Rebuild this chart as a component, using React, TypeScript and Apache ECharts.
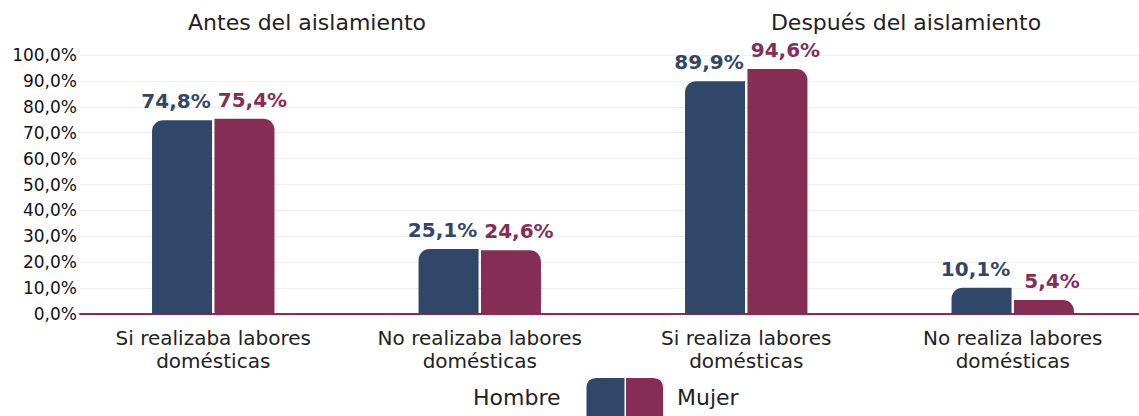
import React, { useEffect, useRef } from "react";
import * as echarts from "echarts";

const categories = [
  "Si realizaba labores\ndomésticas",
  "No realizaba labores\ndomésticas",
  "Si realiza labores\ndomésticas",
  "No realiza labores\ndomésticas",
];
const hombre = [74.8, 25.1, 89.9, 10.1];
const mujer = [75.4, 24.6, 94.6, 5.4];
const titles = ["Antes del aislamiento", "Después del aislamiento"];

const C_H = "#30476A";
const C_M = "#862D55";
const FONT = "DejaVu Sans";

const fmt = (v: number) => v.toFixed(1).replace(".", ",") + "%";

export default function App() {
  const ref = useRef<HTMLDivElement>(null);
  useEffect(() => {
    document.body.style.margin = "0";
    document.body.style.overflow = "hidden";
    const chart = echarts.init(ref.current!, null, { renderer: "svg" });
    const titleStyle = { fontFamily: FONT, fontSize: 22, fontWeight: "normal", color: "#222" };
    chart.setOption({
      animation: false,
      textStyle: { fontFamily: FONT },
      title: [
        { text: titles[0], left: 302, top: 6, textAlign: "center", textStyle: titleStyle },
        { text: titles[1], left: 901, top: 6, textAlign: "center", textStyle: titleStyle },
      ],
      legend: [
        {
          data: ["Hombre"],
          left: 473,
          top: 378,
          align: "right",
          padding: 0,
          itemWidth: 38,
          itemHeight: 38,
          icon: "path://M10,0 L38,0 L38,38 L0,38 L0,10 Q0,0 10,0 Z",
          textStyle: { fontFamily: FONT, fontSize: 22, color: "#222", padding: [12, 21, 0, 0] },
        },
        {
          data: ["Mujer"],
          left: 626,
          top: 378,
          align: "left",
          padding: 0,
          itemWidth: 37,
          itemHeight: 38,
          icon: "path://M0,0 L27,0 Q37,0 37,10 L37,38 L0,38 Z",
          textStyle: { fontFamily: FONT, fontSize: 22, color: "#222", padding: [12, 0, 0, 9] },
        },
      ],
      grid: { left: 80, right: 0, top: 55, bottom: 102, containLabel: false },
      xAxis: {
        type: "category",
        data: categories,
        axisLine: { lineStyle: { color: C_M, width: 2 } },
        axisTick: { show: false },
        axisLabel: {
          interval: 0,
          hideOverlap: false,
          fontFamily: FONT,
          fontSize: 20,
          color: "#222",
          lineHeight: 23,
          margin: 12,
        },
      },
      yAxis: {
        type: "value",
        min: 0,
        max: 100,
        interval: 10,
        axisLine: { show: false },
        axisTick: { show: false },
        splitLine: { lineStyle: { color: "#eeeeee", width: 1 } },
        axisLabel: {
          fontFamily: FONT,
          fontSize: 17,
          color: "#111",
          margin: 3,
          formatter: (v: number) => fmt(v),
        },
      },
      series: [
        {
          name: "Hombre",
          type: "bar",
          data: hombre,
          barWidth: 60,
          barGap: "4%",
          itemStyle: { color: C_H, borderRadius: [11, 0, 0, 0] },
          label: {
            show: true,
            position: "top",
            distance: 9,
            offset: [-6, 0],
            formatter: (p: any) => fmt(p.value),
            fontFamily: FONT,
            fontSize: 20,
            fontWeight: "bold",
            color: C_H,
          },
        },
        {
          name: "Mujer",
          type: "bar",
          data: mujer,
          barWidth: 60,
          itemStyle: { color: C_M, borderRadius: [0, 11, 0, 0] },
          label: {
            show: true,
            position: "top",
            distance: 9,
            offset: [8, 0],
            formatter: (p: any) => fmt(p.value),
            fontFamily: FONT,
            fontSize: 20,
            fontWeight: "bold",
            color: C_M,
          },
        },
      ],
    });
    return () => chart.dispose();
  }, []);
  return <div ref={ref} style={{ width: 1146, height: 416 }} />;
}
